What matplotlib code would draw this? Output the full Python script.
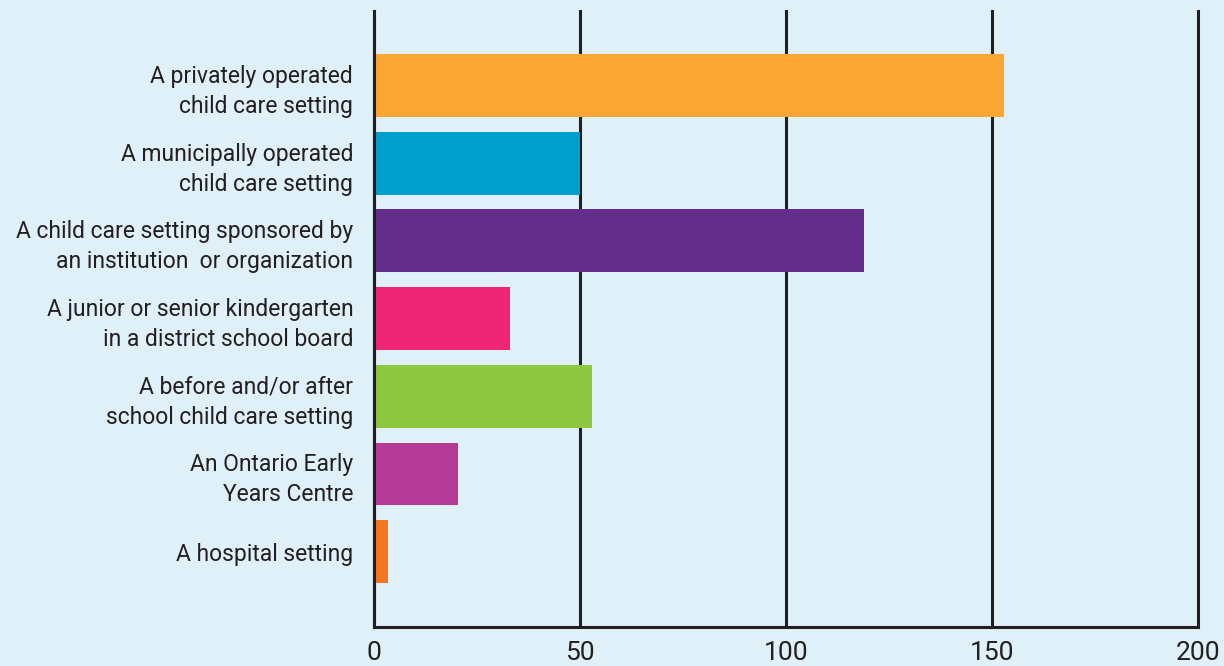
import matplotlib
matplotlib.use("Agg")
import matplotlib.pyplot as plt

categories = [
    "A privately operated\nchild care setting",
    "A municipally operated\nchild care setting",
    "A child care setting sponsored by\nan institution  or organization",
    "A junior or senior kindergarten\nin a district school board",
    "A before and/or after\nschool child care setting",
    "An Ontario Early\nYears Centre",
    "A hospital setting",
]
values = [153, 50, 119, 33, 53, 20.5, 3.3]
colors = ["#f9a633", "#009fce", "#632d8a", "#ee2474", "#8dc63f", "#b53a97", "#f47621"]
xticks = [0, 50, 100, 150, 200]

BG, INK = "#dff0f8", "#231f20"
plt.rcParams["font.family"] = ["Roboto", "DejaVu Sans"]

fig = plt.figure(figsize=(12.24, 6.66), dpi=100, facecolor=BG)
ax = fig.add_axes([374 / 1224, 39 / 666, 824 / 1224, 616 / 666], facecolor=BG)

ypos = list(range(len(categories)))
for x in xticks:
    ax.axvline(x, color=INK, lw=2.2, zorder=1, clip_on=False)
ax.barh(ypos, values, height=0.81, color=colors, zorder=2)

ax.set_xlim(0, 200)
ax.set_ylim(6.97, -0.96)
ax.set_yticks(ypos)
ax.set_yticklabels(categories, fontsize=16.5, color=INK, linespacing=1.38)
ax.set_xticks(xticks)
ax.set_xticklabels([str(x) for x in xticks], fontsize=19, color=INK)
ax.tick_params(length=0, axis="y", pad=15)
ax.tick_params(length=0, axis="x", pad=10)
for s in ["top", "right"]:
    ax.spines[s].set_visible(False)
for s in ["left", "bottom"]:
    ax.spines[s].set_color(INK)
    ax.spines[s].set_linewidth(2.2)
    ax.spines[s].set_zorder(3)
    ax.spines[s].set_capstyle("projecting")

fig.savefig("out.png", dpi=100, facecolor=BG)
